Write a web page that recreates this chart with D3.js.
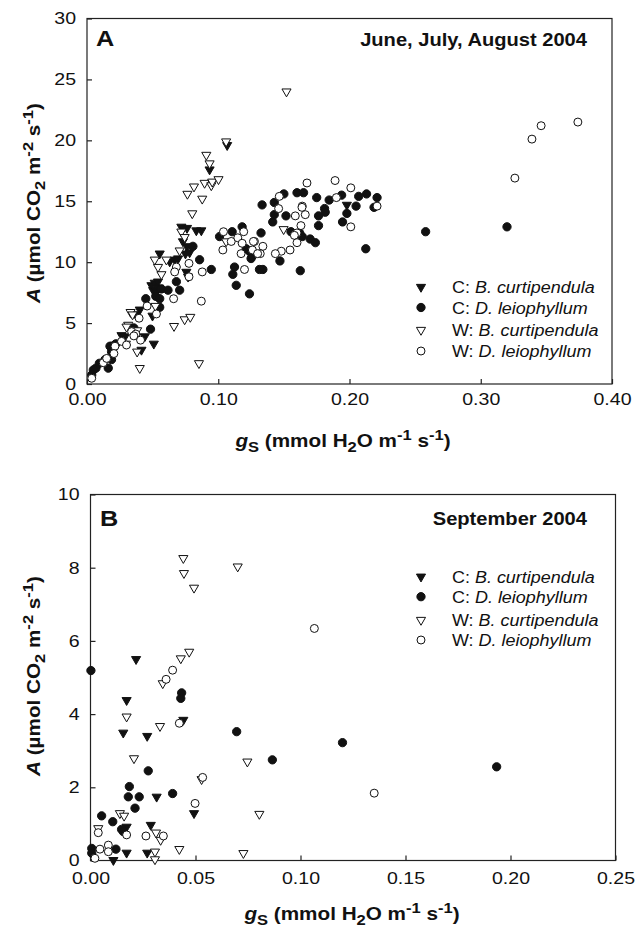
<!DOCTYPE html>
<html>
<head>
<meta charset="utf-8">
<script src="https://cdn.jsdelivr.net/npm/d3@7"></script>
<style>
  body { margin: 0; background: #fff; }
  svg { display: block; font-family: "Liberation Sans", Arial, sans-serif; }
</style>
</head>
<body>
<div id="chart"></div>
<script>
// series data: [g_s, A] pairs
// panel A: June, July, August 2004
var a_cBcurt = [[0.0934,17.6],[0.1068,19.6],[0.198,14.7],[0.0719,12.9],[0.0762,12.8],[0.0833,12.6],[0.0731,11.7],[0.0762,11.3],
  [0.0782,10.8],[0.075,10.7],[0.0871,12.6],[0.0668,10.2],[0.0694,10.3],[0.063,10.05],[0.0554,10.7],[0.0757,9.2],[0.077,8.8],
  [0.0491,8.1],[0.0516,8.3],[0.0541,8.4],[0.0504,7.7],[0.0529,7.6],[0.0549,7.9],[0.0402,6.1],[0.0372,5.7],[0.0499,5.6],
  [0.044,3.9],[0.0509,3.3],[0.0415,2.8],[0.0263,4.0],[0.0289,3.9]];
var a_cDleio = [[0.1334,14.7],[0.1427,14.9],[0.150,15.6],[0.160,15.7],[0.165,15.7],[0.175,15.3],[0.1845,15.1],[0.194,15.5],
  [0.207,15.4],[0.213,15.6],[0.221,15.3],[0.205,14.6],[0.181,14.4],[0.1415,13.3],[0.1427,13.9],[0.1516,13.8],[0.1764,13.8],
  [0.1815,14.1],[0.1764,13.0],[0.1947,13.3],[0.198,14.0],[0.2187,14.5],[0.258,12.5],[0.1554,12.5],[0.162,12.4],[0.164,12.1],
  [0.170,11.9],[0.174,11.6],[0.1326,12.4],[0.125,10.3],[0.147,10.1],[0.134,9.4],[0.1625,9.3],[0.2124,11.1],[0.1238,7.4],
  [0.320,12.9],[0.0807,11.3],[0.0858,10.2],[0.0947,9.4],[0.0681,8.4],[0.0706,7.7],[0.0567,7.8],[0.0617,7.7],[0.0524,7.2],
  [0.0554,7.0],[0.0554,6.3],[0.0448,7.0],[0.0357,4.6],[0.0484,4.5],[0.022,3.3],[0.0187,3.1],[0.0187,2.65],[0.0175,3.1],
  [0.0137,2.0],[0.0162,1.3],[0.0068,1.3],[0.0094,1.7],[0.0048,1.15],[0.0036,0.74],[0.0187,2.0],[0.101,12.1],[0.1106,12.5],
  [0.1182,12.9],[0.1124,9.6],[0.1111,9.0],[0.1137,8.1],[0.1213,11.1],[0.1238,10.9],[0.126,10.5],[0.1314,9.4]];
var a_wBcurt = [[0.0909,18.8],[0.0934,18.1],[0.106,19.9],[0.0765,15.6],[0.0815,16.2],[0.0896,16.5],[0.0947,16.3],[0.0954,16.6],
  [0.1002,16.8],[0.0878,15.2],[0.152,24.0],[0.1498,12.7],[0.0802,14.0],[0.0719,12.5],[0.0744,12.05],[0.0706,10.95],[0.0605,10.2],
  [0.0516,10.2],[0.0541,9.6],[0.0567,9.0],[0.0521,6.4],[0.0332,5.9],[0.0347,5.7],[0.0314,4.85],[0.0301,4.7],[0.0382,2.65],
  [0.0402,1.3],[0.0853,1.7],[0.0663,4.75],[0.0744,5.3],[0.0787,5.5],[0.0382,4.4],[0.0296,3.3],[0.106,11.7]];
var a_wDleio = [[0.1676,16.5],[0.189,16.7],[0.201,16.1],[0.1465,15.4],[0.190,15.3],[0.164,14.6],[0.221,14.6],[0.146,14.4],
  [0.1587,13.8],[0.1638,14.5],[0.1663,13.9],[0.201,12.9],[0.163,13.0],[0.160,12.4],[0.158,12.2],[0.160,11.6],[0.1547,11.0],
  [0.148,10.9],[0.1435,10.7],[0.1276,11.7],[0.126,11.0],[0.134,11.3],[0.132,10.7],[0.346,21.2],[0.374,21.5],[0.339,20.1],
  [0.326,16.9],[0.0777,9.9],[0.0878,9.2],[0.0871,6.8],[0.0681,9.6],[0.0668,9.2],[0.0777,8.8],[0.066,7.0],[0.0529,5.75],
  [0.0458,6.4],[0.0397,5.4],[0.034,4.3],[0.0372,4.1],[0.0357,3.95],[0.0408,3.6],[0.0263,3.5],[0.0301,3.2],[0.0213,3.1],
  [0.0205,2.5],[0.0124,1.75],[0.015,2.1],[0.0036,0.47],[0.104,12.5],[0.1035,11.0],[0.1099,11.7],[0.1149,12.0],[0.1194,12.5],
  [0.1182,11.55],[0.1174,10.7],[0.12,9.4],[0.1268,11.7],[0.130,10.7]];

// panel B: September 2004
var b_cBcurt = [[0.0217,5.5],[0.0172,4.38],[0.0442,3.84],[0.0156,3.49],[0.027,3.4],[0.0315,1.74],[0.0493,1.29],[0.0172,0.92],
  [0.0287,0.97],[0.0172,0.21],[0.027,0.21],[0.0109,0.01]];
var b_cDleio = [[0.0002,5.19],[0.0434,4.58],[0.043,4.43],[0.0696,3.52],[0.0275,2.45],[0.0185,2.02],[0.018,1.74],[0.0232,1.74],
  [0.0391,1.83],[0.0212,1.43],[0.0053,1.22],[0.0106,1.06],[0.0148,0.85],[0.0156,0.79],[0.0006,0.33],[0.0121,0.31],[0.0006,0.2],
  [0.12,3.22],[0.0866,2.75],[0.1934,2.56]];
var b_wBcurt = [[0.0442,8.26],[0.0445,7.85],[0.0493,7.45],[0.0701,8.03],[0.047,5.7],[0.043,5.52],[0.0344,4.84],[0.0172,3.93],
  [0.0331,3.67],[0.0747,2.7],[0.0207,2.79],[0.0529,2.22],[0.0804,1.27],[0.014,1.29],[0.016,1.22],[0.0037,0.88],[0.0312,0.76],
  [0.0334,0.56],[0.0307,0.24],[0.0307,0.03],[0.0423,0.31],[0.0728,0.2]];
var b_wDleio = [[0.0391,5.2],[0.036,4.95],[0.0423,3.75],[0.0534,2.27],[0.0498,1.56],[0.0037,0.76],[0.0172,0.70],[0.0264,0.67],
  [0.0347,0.67],[0.0085,0.42],[0.0045,0.31],[0.0085,0.24],[0.0021,0.06],[0.1066,6.34],[0.1351,1.84]];

// legend labels
var legendPrefix = ["C: ", "C: ", "W: ", "W: "];
var legendSpecies = ["B. curtipendula", "D. leiophyllum", "B. curtipendula", "D. leiophyllum"];

var xTicksA = [0, 0.1, 0.2, 0.3, 0.4];
var yTicksA = [0, 5, 10, 15, 20, 25, 30];
var xTicksB = [0, 0.05, 0.1, 0.15, 0.2, 0.25];
var yTicksB = [0, 2, 4, 6, 8, 10];

var W = 635, H = 929;
var STRETCH = 1.15;

var svg = d3.select("#chart").append("svg")
    .attr("width", W)
    .attr("height", H);

// marker styles: filled tri, filled circle, open tri, open circle
var markerType = [d3.symbolTriangle, d3.symbolCircle, d3.symbolTriangle, d3.symbolCircle];
var markerFill = ["#111", "#111", "#fff", "#fff"];
var markerSize = [36, 54, 36, 50];

function drawMarker(g, i, x, y) {
    var rot = markerType[i] === d3.symbolTriangle ? " rotate(180)" : "";
    g.append("path")
        .attr("d", d3.symbol().type(markerType[i]).size(markerSize[i])())
        .attr("transform", `translate(${x},${y})${rot}`)
        .attr("fill", markerFill[i])
        .attr("stroke", "#111")
        .attr("stroke-width", 1);
}

// rich text helper: parts = [[text, kind]] kind: n, i, sub, sup
function richText(t, parts, size) {
    var shift = 0;
    parts.forEach(function(p) {
        var ts = t.append("tspan").text(p[0]);
        var want = 0;
        if (p[1] === "sub") { want = size * 0.3; ts.style("font-size", (size * 0.8) + "px"); }
        if (p[1] === "sup") { want = -size * 0.4; ts.style("font-size", (size * 0.8) + "px"); }
        if (p[1] === "i") ts.style("font-style", "italic");
        ts.attr("dy", want - shift);
        shift = want;
    });
}

function panel(cfg) {
    var x = d3.scaleLinear().domain(cfg.xDomain).range(cfg.xRange);
    var y = d3.scaleLinear().domain(cfg.yDomain).range(cfg.yRange);
    var g = svg.append("g");

    // frame
    g.append("rect")
        .attr("x", cfg.xRange[0]).attr("y", cfg.yRange[1])
        .attr("width", cfg.xRange[1] - cfg.xRange[0])
        .attr("height", cfg.yRange[0] - cfg.yRange[1])
        .attr("fill", "none")
        .attr("stroke", "#222")
        .attr("stroke-width", 1.2);

    // axes, ticks pointing inward
    var xa = g.append("g")
        .attr("transform", `translate(0,${cfg.yRange[0]})`)
        .call(d3.axisBottom(x).tickValues(cfg.xTicks).tickFormat(d3.format(".2f"))
            .tickSizeInner(-5).tickSizeOuter(0).tickPadding(cfg.xPad));
    var ya = g.append("g")
        .attr("transform", `translate(${cfg.xRange[0]},0)`)
        .call(d3.axisLeft(y).tickValues(cfg.yTicks).tickFormat(d3.format("d"))
            .tickSizeInner(-5).tickSizeOuter(0).tickPadding(11));
    [xa, ya].forEach(function(a) {
        a.select(".domain").remove();
        a.selectAll("line").attr("stroke", "#222").attr("stroke-width", 1.2);
        a.selectAll("text")
            .style("font-size", "17px")
            .attr("fill", "#111")
            .attr("font-family", "Liberation Sans, Arial, sans-serif");
    });
    xa.selectAll("text").attr("transform", `scale(${STRETCH},1)`);
    ya.selectAll("text").attr("x", 0).attr("transform", `translate(-11,0) scale(${STRETCH},1)`);

    // points
    cfg.series.forEach(function(s, i) {
        s.forEach(function(d) { drawMarker(g, i, x(d[0]), y(d[1])); });
    });

    // panel letter
    g.append("text")
        .attr("transform", `translate(${cfg.letterPos[0]},${cfg.letterPos[1]}) scale(${STRETCH},1)`)
        .style("font-size", "22px").style("font-weight", "bold")
        .attr("fill", "#111")
        .text(cfg.letter);

    // title, right aligned
    g.append("text")
        .attr("transform", `translate(${cfg.titlePos[0]},${cfg.titlePos[1]}) scale(${STRETCH},1)`)
        .attr("text-anchor", "end")
        .style("font-size", "17.5px").style("font-weight", "bold")
        .attr("fill", "#111")
        .text(cfg.title);

    // legend
    cfg.legendY.forEach(function(ly, i) {
        drawMarker(g, i, cfg.legendX, ly);
        var t = g.append("text")
            .attr("transform", `translate(${cfg.legendX + 31},${ly + 6}) scale(1.07,1)`)
            .style("font-size", "16.8px")
            .attr("fill", "#111");
        t.append("tspan").text(legendPrefix[i]);
        t.append("tspan").style("font-style", "italic").text(legendSpecies[i]);
    });

    // x axis title
    var xt = g.append("text")
        .attr("transform", `translate(${cfg.xTitlePos[0]},${cfg.xTitlePos[1]}) scale(${STRETCH},1)`)
        .attr("text-anchor", "middle")
        .style("font-size", "18px").style("font-weight", "bold")
        .attr("fill", "#111");
    richText(xt, [["g", "i"], ["S", "sub"], [" (mmol H", "n"], ["2", "sub"], ["O m", "n"], ["-1", "sup"],
        [" s", "n"], ["-1", "sup"], [")", "n"]], 18);

    // y axis title
    var yt = g.append("text")
        .attr("transform", `translate(${cfg.yTitlePos[0]},${cfg.yTitlePos[1]}) rotate(-90) scale(${STRETCH},1)`)
        .attr("text-anchor", "middle")
        .style("font-size", "18px").style("font-weight", "bold")
        .attr("fill", "#111");
    richText(yt, [["A", "i"], [" (\u00b5mol CO", "n"], ["2", "sub"], [" m", "n"], ["-2", "sup"],
        [" s", "n"], ["-1", "sup"], [")", "n"]], 18);
}

panel({
    xDomain: [0, 0.4], xRange: [87, 612],
    yDomain: [0, 30], yRange: [384, 18.5],
    xTicks: xTicksA, yTicks: yTicksA, xPad: 9,
    series: [a_cBcurt, a_cDleio, a_wBcurt, a_wDleio],
    letter: "A", letterPos: [96, 46],
    title: "June, July, August 2004", titlePos: [587, 46],
    legendX: 421, legendY: [287, 307.5, 330, 351],
    xTitlePos: [343, 447], yTitlePos: [40, 203]
});

panel({
    xDomain: [0, 0.25], xRange: [90.5, 615.5],
    yDomain: [0, 10], yRange: [860.5, 494.5],
    xTicks: xTicksB, yTicks: yTicksB, xPad: 11,
    series: [b_cBcurt, b_cDleio, b_wBcurt, b_wDleio],
    letter: "B", letterPos: [100, 526],
    title: "September 2004", titlePos: [587, 525],
    legendX: 421, legendY: [576.7, 596.7, 620, 640],
    xTitlePos: [352, 920], yTitlePos: [40, 676]
});
</script>
</body>
</html>
